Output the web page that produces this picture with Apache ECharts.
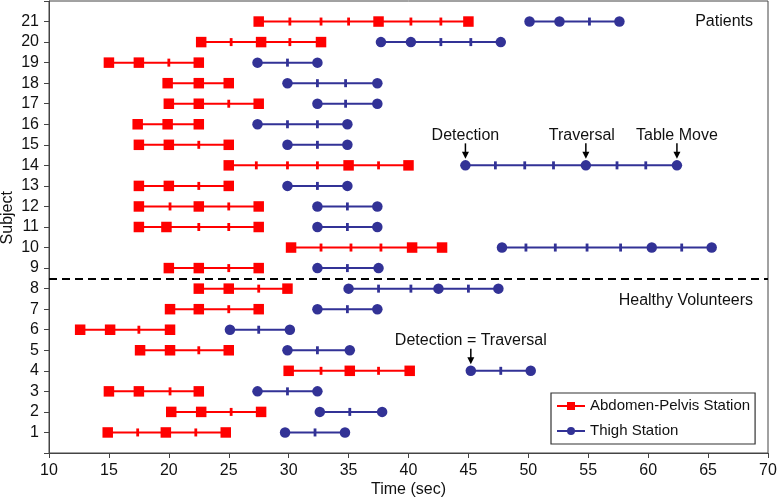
<!DOCTYPE html>
<html>
<head>
<meta charset="utf-8">
<script src="https://cdn.jsdelivr.net/npm/echarts@6/dist/echarts.min.js"></script>
<style>
html,body{margin:0;padding:0;background:#fff;}
#chart{width:778px;height:499px;}
</style>
</head>
<body>
<div id="chart"></div>
<script>
// Subjects 1..21
const subjects = [1,2,3,4,5,6,7,8,9,10,11,12,13,14,15,16,17,18,19,20,21];
// Abdomen-Pelvis station: large markers (detection/traversal/table move) and frame ticks (sec)
const abdMarkers = [
  [14.9,19.75,24.75],[20.2,22.7,27.7],[15,17.5,22.5],[30,35.1,40.1],[17.6,20.1,25],
  [12.6,15.1,20.1],[20.1,22.5,27.5],[22.5,25,29.9],[20,22.5,27.5],[30.2,40.3,42.8],
  [17.5,19.8,27.5],[17.5,22.5,27.5],[17.5,20,25],[25,35,40],[17.5,20,25],
  [17.4,19.9,22.5],[20,22.5,27.5],[19.9,22.5,25],[15,17.5,22.5],[22.7,27.7,32.7],
  [27.5,37.5,45]
];
const abdTicks = [
  [17.4,22.25],[25.2],[20.1],[32.7,37.5],[22.5],
  [17.5],[25],[27.5],[25],[32.7,35.2,37.7],
  [22.5,25],[20.1,25],[22.5],[27.3,29.9,32.4,37.5],[22.5],
  [],[25],[],[20],[25.2,30.1],
  [30.1,32.7,35,40.2,42.7]
];
// Thigh station
const thighMarkers = [
  [29.7,34.7],[32.6,37.8],[27.4,32.4],[45.2,50.2],[29.9,35.1],
  [25.1,30.1],[32.4,37.4],[35,42.5,47.5],[32.4,37.5],[47.8,60.3,65.3],
  [32.4,37.4],[32.4,37.4],[29.9,34.9],[44.75,54.8,62.4],[29.9,34.9],
  [27.4,34.9],[32.4,37.4],[29.9,37.4],[27.4,32.4],[37.7,40.2,47.7],
  [50.1,52.6,57.6]
];
const thighTicks = [
  [32.2],[35.1],[29.9],[47.7],[32.4],
  [27.5],[34.9],[37.5,40.2,45],[34.9],[49.8,52.25,54.9,57.7,62.8],
  [34.9],[34.9],[32.4],[47.25,49.7,52.1,57.4,59.8],[32.4],
  [29.9,32.4],[34.75],[32.4,34.75],[29.9],[42.7,45.2],
  [55.1]
];
const groupDivider = 8.5;
const groupLabels = [{text:'Patients', y:21}, {text:'Healthy Volunteers', y:7.4}];
const annotations = [
  {text:'Detection', x:44.75, y:14, dx:0},
  {text:'Traversal', x:54.8, y:14, dx:-4},
  {text:'Table Move', x:62.4, y:14, dx:0},
  {text:'Detection = Traversal', x:45.2, y:4, dx:0}
];
const xTicks = {min:10, max:70, interval:5};
const yAxisTitle = 'Subject';

const FONT = "'Liberation Sans', Arial, Helvetica, sans-serif";
const RED = '#ff0000', BLUE = '#323296';

function buildSeries(name, color, symbol, markers, ticks) {
  return subjects.map((s, i) => {
    const pts = [];
    markers[i].forEach(t => pts.push({value:[t, s], symbol:symbol, symbolSize:10.5}));
    ticks[i].forEach(t => pts.push({value:[t, s], symbol:'rect', symbolSize:[2.8, 8]}));
    pts.sort((a,b) => a.value[0] - b.value[0]);
    return {
      type:'line', name:name, data:pts, symbol:symbol, symbolSize:10,
      showAllSymbol:true, animation:false, z:3,
      lineStyle:{color:color, width:2}, itemStyle:{color:color, opacity:1},
      emphasis:{disabled:true}
    };
  });
}

const series = [].concat(
  buildSeries('Abdomen-Pelvis Station', RED, 'rect', abdMarkers, abdTicks),
  buildSeries('Thigh Station', BLUE, 'circle', thighMarkers, thighTicks)
);
series[0].markLine = {
  silent:true, symbol:'none', animation:false,
  label:{show:false},
  lineStyle:{color:'#000', type:[8,5], width:2},
  data:[{yAxis:groupDivider}]
};

const chart = echarts.init(document.getElementById('chart'));
chart.setOption({
  animation:false,
  backgroundColor:'#fff',
  textStyle:{fontFamily:FONT},
  grid:{left:49, right:10, top:1, bottom:46, containLabel:false, outerBoundsMode:'none',
        show:true, borderColor:'#444', borderWidth:1},
  legend:{
    data:['Abdomen-Pelvis Station','Thigh Station'],
    orient:'vertical', left:551, top:393,
    padding:[4,5,4,5], itemGap:7, itemWidth:28, itemHeight:10,
    borderColor:'#333', borderWidth:1.2, backgroundColor:'#fff',
    textStyle:{fontFamily:FONT, fontSize:15, color:'#111', lineHeight:18},
    selectedMode:false
  },
  xAxis:{
    type:'value', min:xTicks.min, max:xTicks.max, interval:xTicks.interval,
    name:'Time (sec)', nameLocation:'middle', nameGap:29, nameMoveOverlap:false,
    nameTextStyle:{fontFamily:FONT, fontSize:16, color:'#111'},
    axisLine:{show:true, lineStyle:{color:'#444', width:1}},
    axisTick:{show:true, length:5, lineStyle:{color:'#444'}},
    axisLabel:{fontFamily:FONT, fontSize:16, color:'#111', margin:10},
    splitLine:{show:false}
  },
  yAxis:{
    type:'value', min:0, max:22, interval:1,
    axisLine:{show:true, lineStyle:{color:'#444', width:1}},
    axisTick:{show:true, length:5, lineStyle:{color:'#444'}},
    axisLabel:{fontFamily:FONT, fontSize:16, color:'#111', margin:10,
      formatter: v => (v >= 1 && v <= 21) ? String(v) : ''},
    splitLine:{show:false}
  },
  series:series
});

function drawGraphics() {
  const g = [];
  annotations.forEach(a => {
    const p = chart.convertToPixel({gridIndex:0}, [a.x, a.y]);
    g.push({type:'text', x:p[0] + a.dx, y:p[1] - 30, style:{text:a.text, font:'16px ' + FONT, fill:'#111', textAlign:'center', textVerticalAlign:'middle'}, z:10});
    g.push({type:'line', shape:{x1:p[0], y1:p[1]-22, x2:p[0], y2:p[1]-12}, style:{stroke:'#000', lineWidth:1.5}, z:10});
    g.push({type:'polygon', shape:{points:[[p[0]-3.5, p[1]-13.5],[p[0]+3.5, p[1]-13.5],[p[0], p[1]-6.5]]}, style:{fill:'#000'}, z:10});
  });
  groupLabels.forEach(l => {
    const p = chart.convertToPixel({gridIndex:0}, [xTicks.max, l.y]);
    g.push({type:'text', x:p[0] - 15, y:p[1], style:{text:l.text, font:'16px ' + FONT, fill:'#111', textAlign:'right', textVerticalAlign:'middle'}, z:10});
  });
  // y-axis title, placed slightly above the axis centre as in the original
  const yc = chart.convertToPixel({gridIndex:0}, [xTicks.min, 11.45]);
  g.push({type:'text', x:8, y:yc[1], rotation:Math.PI/2,
    style:{text:yAxisTitle, font:'16px ' + FONT, fill:'#111', textAlign:'center', textVerticalAlign:'middle'}, z:10});
  chart.setOption({graphic:g});
}
drawGraphics();
</script>
</body>
</html>
